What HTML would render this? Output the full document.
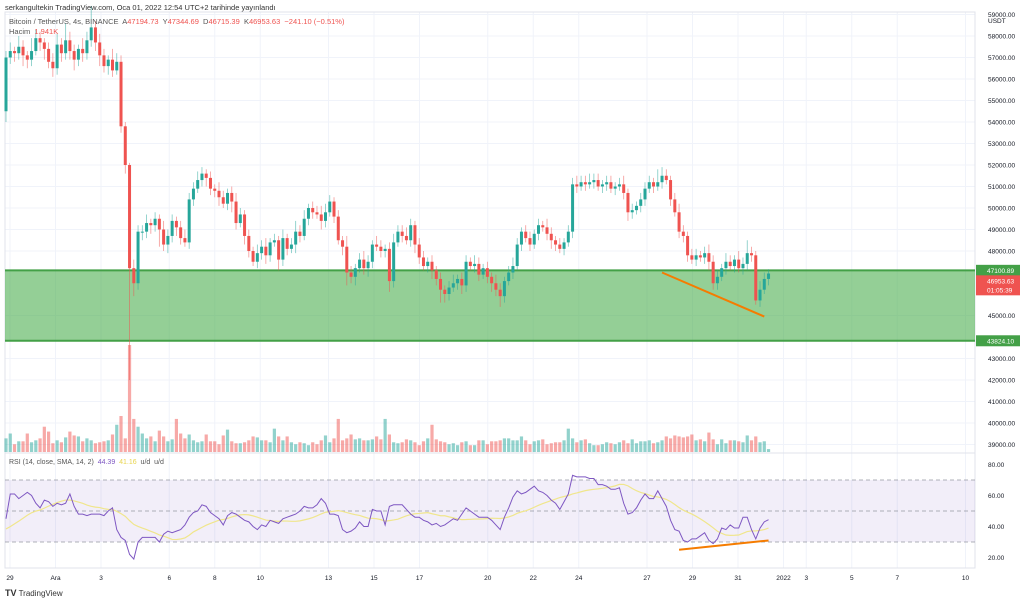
<!DOCTYPE html>
<html><head><meta charset="utf-8">
<style>
body{margin:0;background:#fff;font-family:"Liberation Sans","DejaVu Sans",sans-serif;}
#wrap{position:relative;width:1024px;height:603px;overflow:hidden;background:#fff;}
svg{position:absolute;left:0;top:0;}
.t{position:absolute;white-space:nowrap;}
</style></head>
<body>
<div id="wrap">
<svg id="chart" width="1024" height="603"></svg>
<div class="t" style="left:5px;top:3px;font-size:7.5px;color:#333">serkangultekin TradingView.com, Oca 01, 2022 12:54 UTC+2 tarihinde yayınlandı</div>
<div class="t" style="left:9px;top:17px;font-size:7.5px;color:#555">Bitcoin / TetherUS, 4s, BINANCE&nbsp; A<span style="color:#ef5350">47194.73</span>&nbsp; Y<span style="color:#ef5350">47344.69</span>&nbsp; D<span style="color:#ef5350">46715.39</span>&nbsp; K<span style="color:#ef5350">46953.63&nbsp; −241.10 (−0.51%)</span></div>
<div class="t" style="left:9px;top:27px;font-size:7.5px;color:#555">Hacim&nbsp; <span style="color:#ef5350">1.941K</span></div>
<div class="t" style="left:9px;top:459px;font-size:7px;color:#555">RSI (14, close, SMA, 14, 2)&nbsp; <span style="color:#7e57c2">44.39</span>&nbsp; <span style="color:#e8d44d">41.16</span>&nbsp; u/d&nbsp; u/d</div>
<div class="t" style="left:5px;top:588px;font-size:8px;color:#333"><b style="font-size:9px">TV</b> TradingView</div>
</div>
<script>
const closes=[57000,57300,57200,57500,57100,56900,57300,57900,57700,57400,56800,56500,57600,57200,57800,57300,56900,57400,57200,57800,58400,57700,57100,56600,56900,56400,56800,53800,52000,47200,
46500,48900,48900,49300,49200,49500,49000,48300,48700,49400,49100,48600,48400,50400,50900,51300,51600,51400,50900,50800,50500,50200,50700,50300,49300,49700,48700,48000,47500,47900,
48200,47800,48400,48500,47600,48600,48100,48300,48900,48700,49500,50000,49800,49700,49400,49800,50300,49600,48500,48200,47000,46800,47200,47600,47200,47500,48300,48200,48000,48100,
46600,48400,48900,48700,48500,49200,48300,47700,47300,47500,47100,46700,46200,46000,46300,46500,46700,46400,47500,47300,47400,46900,47200,46800,46500,46200,45900,46600,47000,47300,
48300,48900,48600,48300,48800,49200,49100,48800,48500,48300,48100,48400,48900,51100,51000,51200,51100,51200,51300,51000,51100,51200,50900,51000,51100,50700,49800,49900,50100,50400,
50900,51200,51000,51200,51500,51300,50400,49800,48900,48700,47800,47600,47800,47700,47900,47500,46500,46800,47200,47500,47300,47600,47200,47400,47900,47800,45700,46200,46700,46953];
const firstOpen=54500;
const wickUp=[3,4,2,5,3,2,6,4,3,2,3,4,5,3,8,4,3,2,5,4,10,3,4,3,2,5,4,3,2,1,
4,3,3,4,2,3,2,4,3,3,2,3,4,3,3,4,3,2,3,2,4,3,2,3,4,3,2,3,2,4,
3,4,2,3,2,4,2,3,5,3,4,2,3,3,4,4,3,2,3,2,5,3,2,3,4,3,2,4,3,2,
3,4,3,3,4,3,2,3,3,2,3,2,3,2,3,4,2,3,3,2,4,3,2,3,2,4,3,2,3,4,
3,2,3,3,2,3,2,4,3,2,3,2,3,3,4,3,3,4,3,3,2,3,3,2,3,4,2,3,2,3,
3,3,2,6,4,3,2,3,4,3,2,3,3,2,3,4,3,3,2,4,3,2,4,3,6,3,2,4,3,2];
const wickDn=[5,3,4,3,5,4,3,2,4,5,3,4,3,4,3,4,5,3,4,3,3,4,5,3,4,3,2,3,4,52,
6,3,4,3,4,3,8,3,4,3,4,3,2,3,3,2,3,4,3,3,4,2,3,5,3,2,4,3,2,3,
3,4,3,2,5,3,3,2,4,3,2,3,3,2,4,3,2,3,2,4,6,3,4,2,3,4,3,2,3,3,
5,3,2,3,2,3,4,3,2,3,4,3,6,4,3,2,3,4,3,2,3,3,2,3,4,3,5,3,2,3,
2,3,2,3,2,3,2,3,4,3,2,3,2,3,3,2,3,2,3,2,3,3,2,3,2,3,4,3,2,3,
3,2,3,2,3,2,3,2,3,3,3,2,3,2,3,4,3,3,2,3,2,3,2,3,3,3,2,3,2,3];
const volumes=[14,19,8,11,11,19,10,12,14,26,21,9,12,10,15,21,17,16,11,14,12,9,10,11,12,18,28,37,14,110,
34,26,19,14,16,11,22,16,11,13,34,19,14,18,12,10,11,18,11,11,8,17,23,11,9,9,10,12,16,15,
12,12,10,24,16,12,16,10,8,10,9,7,10,8,12,17,10,14,34,12,14,18,13,14,12,12,13,16,13,34,
18,10,9,10,13,12,10,7,11,14,28,13,11,10,8,9,7,10,11,7,7,12,12,8,11,11,12,14,14,12,
12,16,12,8,11,12,13,8,9,10,10,12,24,14,10,12,13,9,7,7,8,10,9,8,10,12,9,13,9,11,
11,12,9,10,12,16,14,17,16,15,16,18,12,13,11,20,13,8,13,9,12,12,11,10,17,12,16,10,11,3];
const rsi=[45,61,61,58,60,62,60,55,52,57,56,53,55,54,55,61,53,48,48,47,48,48,48,47,50,52,38,33,31,22,
19,30,33,33,33,33,30,35,37,36,37,38,41,46,49,50,54,53,49,47,45,41,47,49,48,46,44,43,40,38,
41,40,44,43,42,45,46,47,48,50,53,52,52,54,58,55,48,48,47,38,36,37,39,43,40,40,51,50,50,41,
53,54,54,54,51,48,46,46,44,43,41,42,40,41,43,45,44,48,52,50,48,46,46,46,44,41,38,46,52,59,
63,61,62,64,66,63,62,60,57,55,51,56,61,73,72,72,72,71,71,67,67,66,64,64,65,55,48,49,52,57,
61,58,58,63,58,53,44,38,37,31,30,32,32,34,36,31,29,32,39,38,41,39,39,46,46,38,32,39,43,44.39];
const rsiPrior=[40,36,34,33,35,38,40,42,40,38,37,39,41];
const priceTicks=[59000,58000,57000,56000,55000,54000,53000,52000,51000,50000,49000,48000,45000,43000,42000,41000,40000,39000];
const rsiTicks=[80,60,40,20];
const dateLabels=["29","Ara","3","6","8","10","13","15","17","20","22","24","27","29","31","2022","3","5","7","10"];
const dateDays=[0,2,4,7,9,11,14,16,18,21,23,25,28,30,32,34,35,37,39,42];
const zoneTop=47100.89, zoneBottom=43824.10, lastPrice=46953.63;
const trendMain=[[154,47000],[178,44950]];
const trendRsi=[[158,25],[179,31]];

const NS="http://www.w3.org/2000/svg";
const svg=document.getElementById('chart');
const PL=5, PR=975, MT=12, MB=453, RT=453, RB=568;
const x=i=>6+i*4.26;
const xDay=d=>10+d*22.75;
const y=p=>251-(p-48000)*0.0215;
const ry=v=>511-(v-50)*1.55;
function el(t,a,parent){const e=document.createElementNS(NS,t);for(const k in a)e.setAttribute(k,a[k]);(parent||svg).appendChild(e);return e;}
function txt(s,a){const e=el('text',a);e.textContent=s;return e;}

// grid
dateDays.forEach(d=>{const gx=xDay(d);if(gx>PR)return;
 const g=el('line',{x1:gx,x2:gx,y1:MT,y2:RB,stroke:'#f0f3fa','stroke-width':1});
 
 });
priceTicks.forEach(p=>{const g=el('line',{x1:PL,x2:PR,y1:y(p),y2:y(p),stroke:'#f0f3fa','stroke-width':1});
 
 });
const b1=el('rect',{x:PL,y:MT,width:PR-PL,height:RB-MT,fill:'none',stroke:'#e0e3eb','stroke-width':1});


const b2=el('line',{x1:PL,x2:1024,y1:RT,y2:RT,stroke:'#e0e3eb'});


const b3=el('line',{x1:PL,x2:1024,y1:RB,y2:RB,stroke:'#e0e3eb'});


const b4=el('line',{x1:PR,x2:PR,y1:MT,y2:RB,stroke:'#e0e3eb'});



// volume
const VB=452, VS=107/110;
volumes.forEach((v,i)=>{const o=i?closes[i-1]:firstOpen;const up=closes[i]>=o;
 const r=el('rect',{x:x(i)-1.6,y:VB-v*VS,width:3.2,height:v*VS,fill:up?'rgba(38,166,154,0.5)':'rgba(239,83,80,0.5)'});
 
 });

// zone
const z=el('rect',{x:PL,y:y(zoneTop),width:PR-PL,height:y(zoneBottom)-y(zoneTop),fill:'rgba(76,175,80,0.6)'});


[zoneTop,zoneBottom].forEach(p=>{const l=el('line',{x1:PL,x2:PR,y1:y(p),y2:y(p),stroke:'#43a047','stroke-width':2});
 
 });

// candles
closes.forEach((c,i)=>{const o=i?closes[i-1]:firstOpen;const up=c>=o;const col=up?'#26a69a':'#ef5350';
 const hi=Math.max(o,c)+wickUp[i]*100, lo=Math.min(o,c)-wickDn[i]*100;
 const w=el('line',{x1:x(i),x2:x(i),y1:y(hi),y2:y(lo),stroke:col,'stroke-width':0.8,opacity:0.6});
 
 
 const top=y(Math.max(o,c)), h=Math.max(1,Math.abs(y(o)-y(c)));
 const r=el('rect',{x:x(i)-1.5,y:top,width:3,height:h,fill:col});
 
 });

const tl=el('line',{x1:x(trendMain[0][0]),y1:y(trendMain[0][1]),x2:x(trendMain[1][0]),y2:y(trendMain[1][1]),stroke:'#f57c00','stroke-width':2});



// RSI
const band=el('rect',{x:PL,y:ry(70),width:PR-PL,height:ry(30)-ry(70),fill:'rgba(126,87,194,0.1)'});


[70,50,30].forEach(v=>{const l=el('line',{x1:PL,x2:PR,y1:ry(v),y2:ry(v),stroke:'#9598a1','stroke-width':0.8,'stroke-dasharray':'4 3'});
 
 });
const all=rsiPrior.concat(rsi);const sma=[];
for(let i=0;i<rsi.length;i++){let s=0;const j=i+rsiPrior.length;for(let k=j-13;k<=j;k++)s+=all[k];sma.push(s/14);}
const sp=el('polyline',{points:sma.map((v,i)=>x(i)+','+ry(v)).join(' '),fill:'none',stroke:'#f0e68c','stroke-width':1.2});


const rp=el('polyline',{points:rsi.map((v,i)=>x(i)+','+ry(v)).join(' '),fill:'none',stroke:'#7e57c2','stroke-width':1});


const tr=el('line',{x1:x(trendRsi[0][0]),y1:ry(trendRsi[0][1]),x2:x(trendRsi[1][0]),y2:ry(trendRsi[1][1]),stroke:'#f57c00','stroke-width':2});



// axes labels
const ab=el('rect',{x:PR+0.5,y:0,width:48.5,height:603,fill:'#fff'});


priceTicks.forEach(p=>{const t=txt(p.toFixed(2),{x:988,y:y(p)+2.5,'font-size':6.5,fill:'#131722'});
 
 });
const u=txt('USDT',{x:988,y:23,'font-size':6.5,fill:'#131722'});


rsiTicks.forEach(v=>{const t=txt(v.toFixed(2),{x:988,y:ry(v)+2.5,'font-size':6.5,fill:'#131722'});
 
 });
function tag(top,lines,col,name){const h=lines.length*9+2;const r=el('rect',{x:PR+1,y:top,width:44,height:h,fill:col});
 
 
 lines.forEach((s,k)=>{const t=txt(s,{x:987,y:top+8+k*9,'font-size':6.5,fill:'#fff'});
 
 });}
tag(y(zoneTop)-5.5,[zoneTop.toFixed(2)],'#43a047','zone-top-tag');
tag(y(zoneTop)+5,[lastPrice.toFixed(2),'01:05:39'],'#ef5350','last-price-tag');
tag(y(zoneBottom)-5.5,[zoneBottom.toFixed(2)],'#43a047','zone-bottom-tag');
dateLabels.forEach((s,k)=>{const gx=xDay(dateDays[k]);if(gx>PR)return;
 const t=txt(s,{x:gx,y:580,'font-size':6.5,fill:'#131722','text-anchor':'middle'});
 
 });
</script>
</body></html>
